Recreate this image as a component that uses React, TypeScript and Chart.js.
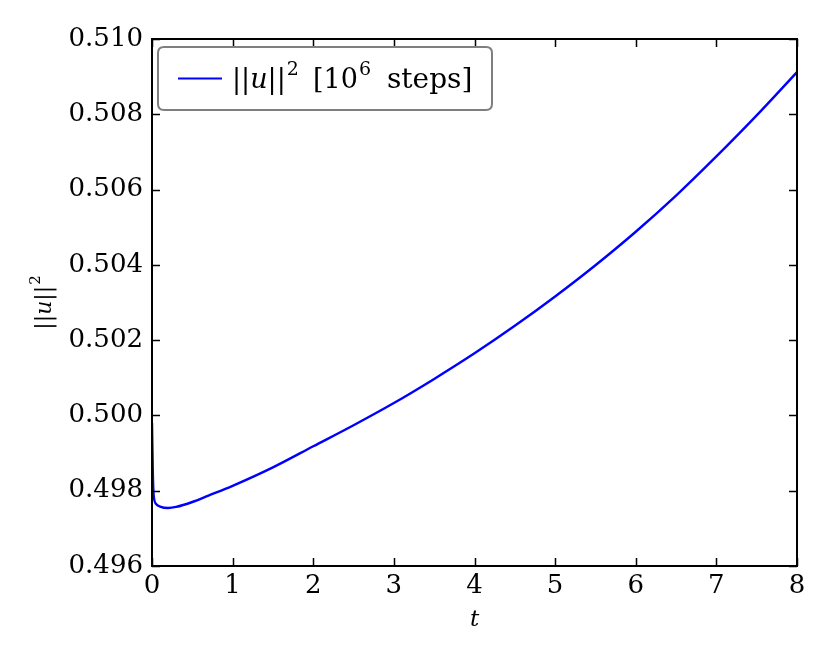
import React, { useEffect, useRef } from "react";
import { Chart, registerables } from "chart.js";

Chart.register(...registerables);

// ---- data ----
const tValues = [0, 0.01, 0.02, 0.05, 0.1, 0.2, 0.3, 0.5, 0.7, 1.0, 1.5, 2.0, 2.5, 3.0, 3.5, 4.0, 4.5, 5.0, 5.5, 6.0, 6.5, 7.0, 7.5, 8.0];
const normValues = [0.4998, 0.4985, 0.4979, 0.49765, 0.49758, 0.49754, 0.49757, 0.4977, 0.49787, 0.49813, 0.49862, 0.49918, 0.49974, 0.50033, 0.50097, 0.50165, 0.50238, 0.50316, 0.50399, 0.50488, 0.50584, 0.50688, 0.50797, 0.50912];
const xTicks = [0, 1, 2, 3, 4, 5, 6, 7, 8];
const yTicks = [0.496, 0.498, 0.5, 0.502, 0.504, 0.506, 0.508, 0.51];
const seriesLabel = "||u||² [10⁶ steps]";
const xTitle = "t";

const SERIF = "'DejaVu Serif', serif";

type Seg = { text: string; font: string; dy?: number; gap?: number; at?: number };

function drawRich(ctx: CanvasRenderingContext2D, x: number, y: number, segs: Seg[]) {
  let cx = x;
  for (const s of segs) {
    if (s.at !== undefined) cx = s.at;
    cx += s.gap || 0;
    ctx.font = s.font;
    ctx.fillText(s.text, cx, y + (s.dy || 0));
    cx += ctx.measureText(s.text).width;
  }
  return cx - x;
}

function measureRich(ctx: CanvasRenderingContext2D, segs: Seg[]) {
  let w = 0;
  for (const s of segs) {
    w += s.gap || 0;
    ctx.font = s.font;
    w += ctx.measureText(s.text).width;
  }
  return w;
}

const framePlugin = {
  id: "framePlugin",
  afterDatasetsDraw(chart: any) {
    const { ctx, chartArea, scales } = chart;
    const { left, right, top, bottom } = chartArea;
    ctx.save();
    // inward ticks on all four sides
    ctx.strokeStyle = "#000";
    ctx.lineWidth = 1.5;
    const tl = 8;
    for (const v of xTicks) {
      const px = Math.round(scales.x.getPixelForValue(v)) + 0.5;
      ctx.beginPath();
      ctx.moveTo(px, bottom);
      ctx.lineTo(px, bottom - tl);
      ctx.moveTo(px, top);
      ctx.lineTo(px, top + tl);
      ctx.stroke();
    }
    for (const v of yTicks) {
      const py = Math.round(scales.y.getPixelForValue(v)) + 0.5;
      ctx.beginPath();
      ctx.moveTo(left, py);
      ctx.lineTo(left + tl, py);
      ctx.moveTo(right, py);
      ctx.lineTo(right - tl, py);
      ctx.stroke();
    }
    // frame
    ctx.lineWidth = 2;
    ctx.strokeRect(left, top, right - left, bottom - top);

    // y axis title ||u||^2 (rotated)
    ctx.fillStyle = "#000";
    ctx.textBaseline = "alphabetic";
    ctx.textAlign = "left";
    const ySegs: Seg[] = [
      { text: "||", font: `22px ${SERIF}` },
      { text: "u", font: `italic 22px ${SERIF}` },
      { text: "||", font: `22px ${SERIF}` },
      { text: "2", font: `15px ${SERIF}`, dy: -11, gap: 1 },
    ];
    const yw = measureRich(ctx, ySegs);
    ctx.save();
    ctx.translate(51, (top + bottom) / 2);
    ctx.rotate(-Math.PI / 2);
    drawRich(ctx, -yw / 2, 0, ySegs);
    ctx.restore();

    // legend box
    const bx = 158, by = 47, bw = 334, bh = 63, r = 6;
    ctx.beginPath();
    ctx.moveTo(bx + r, by);
    ctx.lineTo(bx + bw - r, by);
    ctx.quadraticCurveTo(bx + bw, by, bx + bw, by + r);
    ctx.lineTo(bx + bw, by + bh - r);
    ctx.quadraticCurveTo(bx + bw, by + bh, bx + bw - r, by + bh);
    ctx.lineTo(bx + r, by + bh);
    ctx.quadraticCurveTo(bx, by + bh, bx, by + bh - r);
    ctx.lineTo(bx, by + r);
    ctx.quadraticCurveTo(bx, by, bx + r, by);
    ctx.closePath();
    ctx.fillStyle = "#fff";
    ctx.fill();
    ctx.strokeStyle = "#7f7f7f";
    ctx.lineWidth = 2;
    ctx.stroke();

    const ds = chart.data.datasets[0];
    ctx.strokeStyle = ds.borderColor;
    ctx.lineWidth = 2.2;
    ctx.beginPath();
    ctx.moveTo(178, 78.5);
    ctx.lineTo(222, 78.5);
    ctx.stroke();

    ctx.fillStyle = "#000";
    const parts = String(ds.label).split(" ");
    const legSegs: Seg[] = [
      { text: "||", font: `27px ${SERIF}`, at: 232 },
      { text: "u", font: `italic 27px ${SERIF}` },
      { text: "||", font: `27px ${SERIF}` },
      { text: "2", font: `19px ${SERIF}`, dy: -13, gap: 1 },
      { text: "[10", font: `27px ${SERIF}`, at: 313 },
      { text: "6", font: `19px ${SERIF}`, dy: -13, gap: 1 },
      { text: parts[2] || "steps]", font: `28px ${SERIF}`, at: 387 },
    ];
    drawRich(ctx, 232, 88, legSegs);
    ctx.restore();
  },
};

export default function App() {
  const ref = useRef<HTMLCanvasElement | null>(null);
  useEffect(() => {
    const canvas = ref.current;
    if (!canvas) return;
    const chart = new Chart(canvas, {
      type: "line",
      data: {
        datasets: [
          {
            label: seriesLabel,
            data: tValues.map((t, i) => ({ x: t, y: normValues[i] })),
            borderColor: "#0000ff",
            borderWidth: 2.4,
            pointRadius: 0,
            fill: false,
            cubicInterpolationMode: "monotone",
          },
        ],
      },
      options: {
        responsive: false,
        animation: false,
        devicePixelRatio: 1,
        layout: { padding: { left: 0, top: 39, right: 33, bottom: 0 } },
        plugins: { legend: { display: false }, tooltip: { enabled: false } },
        scales: {
          x: {
            type: "linear",
            min: 0,
            max: 8,
            afterFit: (s: any) => { s.height = 98; },
            afterBuildTicks: (s: any) => { s.ticks = xTicks.map((v) => ({ value: v })); },
            grid: { display: false, drawTicks: false },
            border: { display: false },
            ticks: {
              padding: 5,
              color: "#000",
              font: { family: SERIF, size: 26 },
              maxRotation: 0,
              callback: (v: any) => String(v),
            },
            title: {
              display: true,
              text: xTitle,
              color: "#000",
              font: { family: SERIF, size: 23, style: "italic" },
              padding: { top: 0, bottom: 30 },
            },
          },
          y: {
            type: "linear",
            min: 0.496,
            max: 0.51,
            afterFit: (s: any) => { s.width = 152; },
            afterBuildTicks: (s: any) => { s.ticks = yTicks.map((v) => ({ value: v })); },
            grid: { display: false, drawTicks: false },
            border: { display: false },
            ticks: {
              padding: 9,
              color: "#000",
              font: { family: SERIF, size: 26 },
              callback: (v: any) => Number(v).toFixed(3),
            },
          },
        },
      },
      plugins: [framePlugin],
    } as any);
    return () => chart.destroy();
  }, []);
  return (
    <div style={{ position: "absolute", left: 0, top: 0, width: 830, height: 664, background: "#fff" }}>
      <canvas ref={ref} width={830} height={664} style={{ display: "block" }} />
    </div>
  );
}
